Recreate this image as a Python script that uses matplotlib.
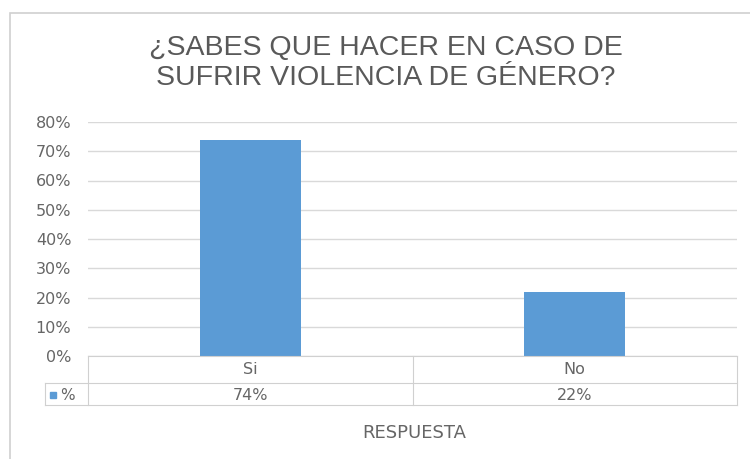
import matplotlib
matplotlib.use('Agg')
import matplotlib.pyplot as plt
from matplotlib.lines import Line2D
from matplotlib.patches import Rectangle

# Datos
categorias = ['Si', 'No']
valores = [0.74, 0.22]
etiquetas_valor = ['74%', '22%']
serie = '%'
titulo = '¿SABES QUE HACER EN CASO DE\nSUFRIR VIOLENCIA DE GÉNERO?'
eje_x = 'RESPUESTA'

W, H = 750, 459
azul = '#5B9BD5'
gris_txt = '#595959'
gris_eje = '#666666'
gris_lin = '#D9D9D9'

plt.rcParams['font.family'] = ['DejaVu Sans']

fig = plt.figure(figsize=(W / 100, H / 100), dpi=100)


def fx(px):
    return px / W


def fy(py):
    return 1 - py / H


# Marco del gráfico
fig.add_artist(Rectangle((fx(10), fy(470)), fx(760) - fx(10), fy(13) - fy(470),
                         transform=fig.transFigure, fill=False,
                         edgecolor='#D0D0D0', linewidth=1.2))

x0, x1 = 88, 737
y_top, y_bot = 122, 356
ax = fig.add_axes([fx(x0), fy(y_bot), fx(x1) - fx(x0), fy(y_top) - fy(y_bot)])

pos = list(range(len(categorias)))
ax.bar(pos, valores, width=0.31, color=azul, zorder=3)
ax.set_xlim(-0.5, len(categorias) - 0.5)
ax.set_ylim(0, 0.8)
ax.set_yticks([i / 10 for i in range(9)])
ax.set_yticklabels([f'{i * 10}%' for i in range(9)], color=gris_eje, fontsize=11.5)
ax.tick_params(axis='y', length=0, pad=12)
ax.set_xticks([])
ax.grid(axis='y', color=gris_lin, linewidth=1, zorder=0)
for s in ax.spines.values():
    s.set_visible(False)

# Tabla de datos
r0, r1, r2 = 356, 383, 405
tx0 = 45
xm = (x0 + x1) / 2
lw = 0.8
lc = '#D0D0D0'


def linea(xa, ya, xb, yb):
    fig.add_artist(Line2D([fx(xa), fx(xb)], [fy(ya), fy(yb)],
                          transform=fig.transFigure, color=lc, linewidth=lw))


linea(x0, r0, x1, r0)
linea(tx0, r1, x1, r1)
linea(tx0, r2, x1, r2)
linea(x0, r0, x0, r2)
linea(xm, r0, xm, r2)
linea(x1, r0, x1, r2)
linea(tx0, r1, tx0, r2)

anchura = (x1 - x0) / len(categorias)
for i, (c, v) in enumerate(zip(categorias, etiquetas_valor)):
    cx = x0 + anchura * (i + 0.5)
    fig.text(fx(cx), fy(370), c, ha='center', va='center',
             color=gris_eje, fontsize=11.5)
    fig.text(fx(cx), fy(395), v, ha='center', va='center',
             color=gris_eje, fontsize=11.5)

fig.add_artist(Rectangle((fx(50), fy(398)), fx(6), fy(392) - fy(398),
                         transform=fig.transFigure, color=azul))
fig.text(fx(60), fy(395), serie, ha='left', va='center',
         color=gris_eje, fontsize=11)

fig.text(fx(414), fy(433), eje_x, ha='center', va='center',
         color=gris_eje, fontsize=13)

fig.text(fx(386), fy(63), titulo, ha='center', va='center', color=gris_txt,
         fontsize=20.5, linespacing=1.16, family='Liberation Sans')

fig.savefig('out.png', dpi=100)
